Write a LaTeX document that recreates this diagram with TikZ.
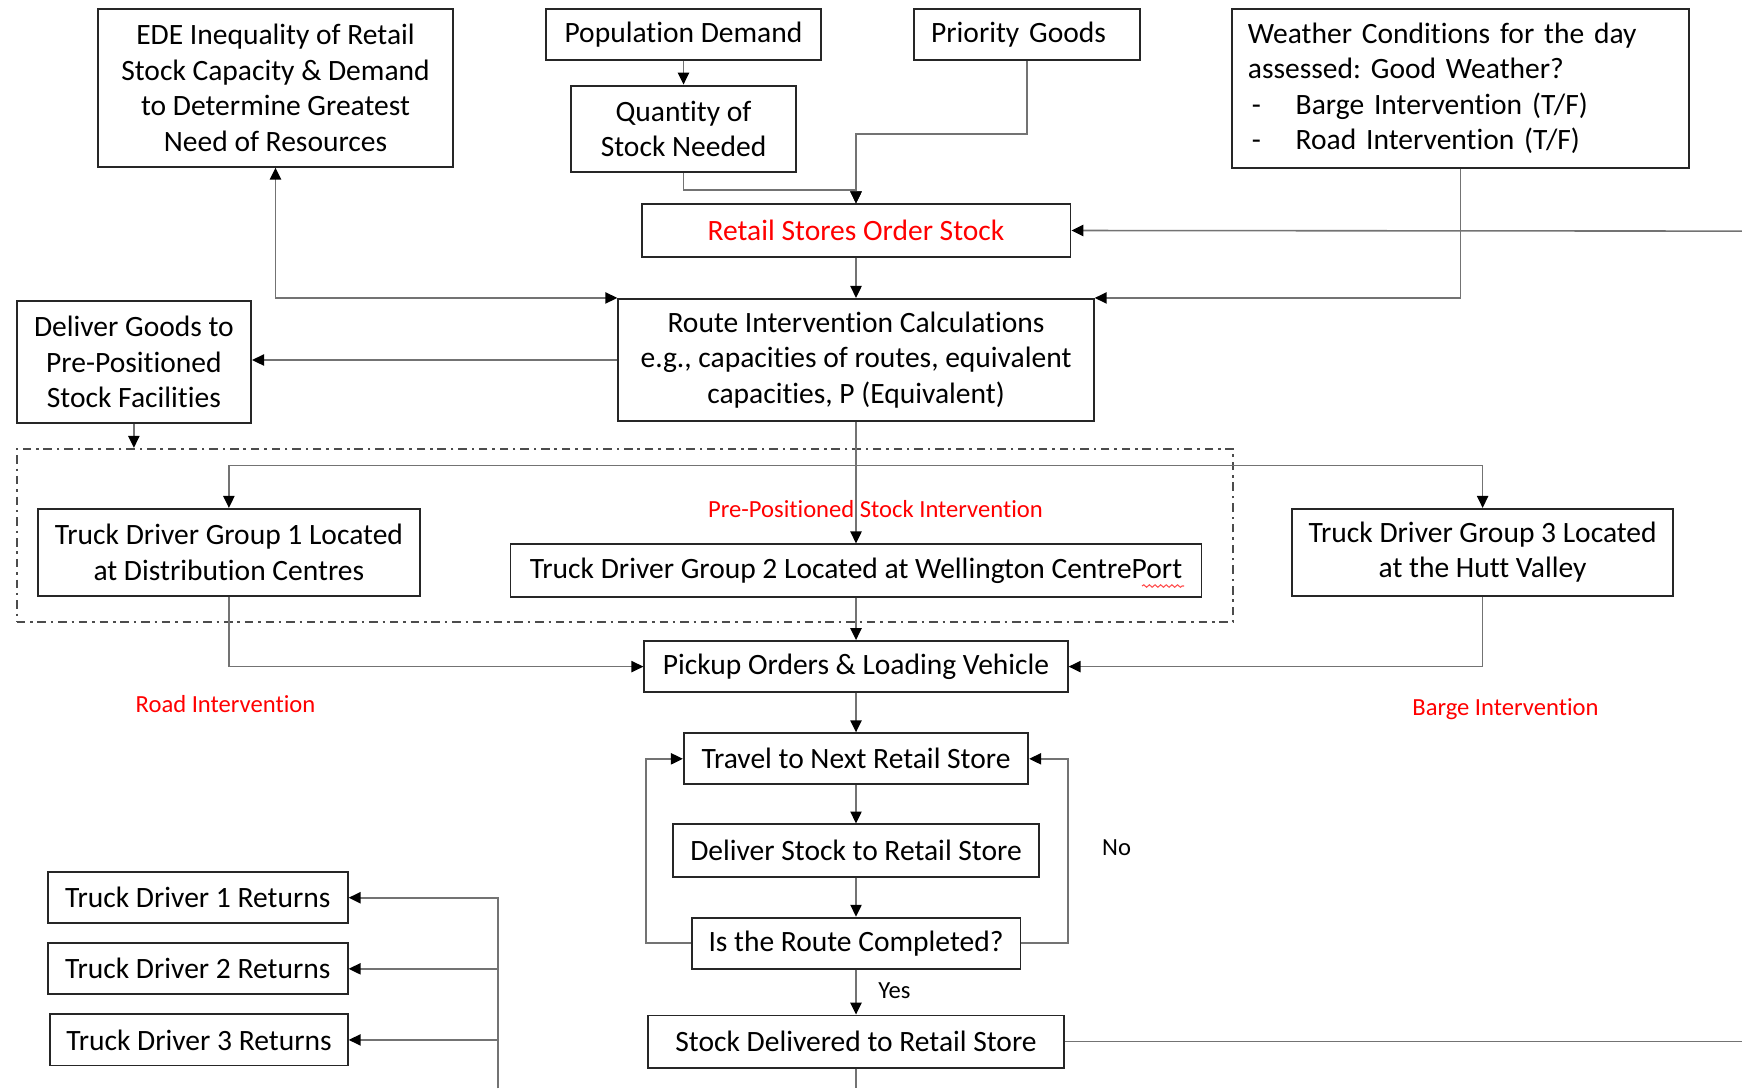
\documentclass[tikz,border=0pt]{standalone}
\usepackage{fontspec}
\setmainfont{Carlito}[Ligatures=NoCommon]
\usetikzlibrary{arrows.meta,positioning,decorations.pathmorphing}
\newcommand{\bxfont}{\fontsize{8.4}{10.1}\selectfont}
\newcommand{\lblfont}{\fontsize{7}{8.4}\selectfont}
\newcommand{\dashitem}{\makebox[0.478cm][l]{\hspace{0.04cm}-}}
\frenchspacing

\begin{document}
\begin{tikzpicture}[
    box/.style={rectangle, draw=black!85, line width=0.55pt, inner sep=0pt,
                align=center, font=\bxfont},
    lbox/.style={box, align=left},
    redlbl/.style={font=\lblfont, text=red, inner sep=0pt},
    yesno/.style={font=\lblfont, inner sep=0pt},
    conn/.style={draw=black!55, line width=0.45pt,
                 -{Triangle[length=3.4pt,width=3.2pt,color=black]}},
    bothconn/.style={draw=black!55, line width=0.45pt,
                 {Triangle[length=3.4pt,width=3.2pt,color=black]}-{Triangle[length=3.4pt,width=3.2pt,color=black]}},
    plain/.style={draw=black!55, line width=0.45pt},
    zone/.style={rectangle, draw=black!70, line width=0.55pt,
                 dash pattern=on 2.4pt off 1.4pt on 0.7pt off 1.4pt}
  ]
    \useasboundingbox (0,0) rectangle (17.42,-10.88);

    % Inputs
    \node[box, minimum width=3.555cm, minimum height=1.578cm] (ede) at (2.755,-0.878)
      {EDE Inequality of Retail\\Stock Capacity \& Demand\\to Determine Greatest\\Need of Resources};
    \node[box, minimum width=2.755cm, minimum height=0.511cm] (popdem) at (6.835,-0.344) {Population Demand};
    \node[box, minimum width=2.255cm, minimum height=0.867cm] (qty) at (6.835,-1.289) {Quantity of\\Stock Needed};
    \node[lbox, text width=1.92cm, minimum width=2.255cm, minimum height=0.511cm] (prio) at (10.271,-0.344) {Priority Goods};
    \node[lbox, text width=4.25cm, minimum width=4.566cm, minimum height=1.589cm] (weather) at (14.604,-0.883)
      {Weather Conditions for the day\\assessed: Good Weather?\\\dashitem Barge Intervention (T/F)\\\dashitem Road Intervention (T/F)};

    % Ordering and routing
    \node[box, minimum width=4.289cm, minimum height=0.522cm, text=red] (order) at (8.56,-2.305) {Retail Stores Order Stock};
    \node[box, minimum width=4.755cm, minimum height=1.222cm] (route) at (8.56,-3.60)
      {Route Intervention Calculations\\e.g., capacities of routes, equivalent\\capacities, P (Equivalent)};
    \node[box, minimum width=2.344cm, minimum height=1.222cm] (prepos) at (1.339,-3.622)
      {Deliver Goods to\\Pre-Positioned\\Stock Facilities};

    % Truck driver groups
    \node[zone, minimum width=12.165cm, minimum height=1.734cm] (ppzone) at (6.25,-5.355) {};
    \node[box, minimum width=3.822cm, minimum height=0.867cm] (grp1) at (2.289,-5.522)
      {Truck Driver Group 1 Located\\at Distribution Centres};
    \node[box, minimum width=6.91cm, minimum height=0.522cm] (grp2) at (8.56,-5.705)
      {Truck Driver Group 2 Located at Wellington CentrePort};
    \node[box, minimum width=3.811cm, minimum height=0.867cm] (grp3) at (14.826,-5.522)
      {Truck Driver Group 3 Located\\at the Hutt Valley};
    \node[redlbl] (pplbl) at (8.755,-5.088) {Pre-Positioned Stock Intervention};
    \node[redlbl] (roadlbl) at (2.255,-7.044) {Road Intervention};
    \node[redlbl] (bargelbl) at (15.054,-7.088) {Barge Intervention};
    \draw[red!70, line width=0.3pt, decoration={snake, amplitude=0.35pt, segment length=1.6pt}, decorate]
      (11.42,-5.86) -- (11.84,-5.86);

    % Delivery loop
    \node[box, minimum width=4.233cm, minimum height=0.511cm] (pickup) at (8.56,-6.666) {Pickup Orders \& Loading Vehicle};
    \node[box, minimum width=3.444cm, minimum height=0.511cm] (travel) at (8.56,-7.588) {Travel to Next Retail Store};
    \node[box, minimum width=3.655cm, minimum height=0.522cm] (deliver) at (8.56,-8.505) {Deliver Stock to Retail Store};
    \node[box, minimum width=3.289cm, minimum height=0.511cm] (done) at (8.56,-9.432) {Is the Route Completed?};
    \node[box, minimum width=4.166cm, minimum height=0.522cm] (delivered) at (8.56,-10.416) {Stock Delivered to Retail Store};
    \node[yesno] (nolbl) at (11.166,-8.477) {No};
    \node[yesno] (yeslbl) at (8.944,-9.91) {Yes};

    % Returns
    \node[box, minimum width=3.0cm, minimum height=0.511cm] (ret1) at (1.977,-8.977) {Truck Driver 1 Returns};
    \node[box, minimum width=3.0cm, minimum height=0.511cm] (ret2) at (1.977,-9.688) {Truck Driver 2 Returns};
    \node[box, minimum width=2.977cm, minimum height=0.511cm] (ret3) at (1.989,-10.399) {Truck Driver 3 Returns};

    % Edge points
    \coordinate (loopin) at (17.42,-2.311);
    \coordinate (loopout) at (17.42,-10.416);
    \coordinate (downout) at (8.56,-10.88);
    \coordinate (retbus) at (4.977,-10.88);
    \coordinate (split) at (8.56,-4.655);

    % Connectors
    \draw[conn] (popdem) -- (qty);
    \draw[conn] (qty.south) -- ++(0,-0.167) -| (order.north);
    \draw[conn] (prio.south) -- ++(0,-0.733) -| (order.north);
    \draw[conn] (loopin) -- (order.east);
    \draw[conn] (order) -- (route);
    \draw[conn] (weather.south) |- (route.north east);
    \draw[bothconn] (ede.south) |- (route.north west);
    \draw[conn] (route.west) -- (route.west -| prepos.east);
    \draw[conn] (prepos.south) -- (prepos.south |- ppzone.north);
    \draw[conn] (route.south) -- (grp2.north);
    \draw[conn] (split) -| (grp1.north);
    \draw[conn] (split) -| (grp3.north);
    \draw[conn] (grp2) -- (pickup);
    \draw[conn] (grp1.south) |- (pickup.west);
    \draw[conn] (grp3.south) |- (pickup.east);
    \draw[conn] (pickup) -- (travel);
    \draw[conn] (travel) -- (deliver);
    \draw[conn] (deliver) -- (done);
    \draw[conn] (done.west) -- ++(-0.444,0) |- (travel.west);
    \draw[conn] (done.east) -- ++(0.466,0) |- (travel.east);
    \draw[conn] (done) -- (delivered);
    \draw[plain] (delivered.south) -- (downout);
    \draw[plain] (delivered.east) -- (loopout);
    \draw[conn] (retbus) |- (ret1.east);
    \draw[conn] (retbus) |- (ret2.east);
    \draw[conn] (retbus) |- (ret3.east);
  \end{tikzpicture}
\end{document}
